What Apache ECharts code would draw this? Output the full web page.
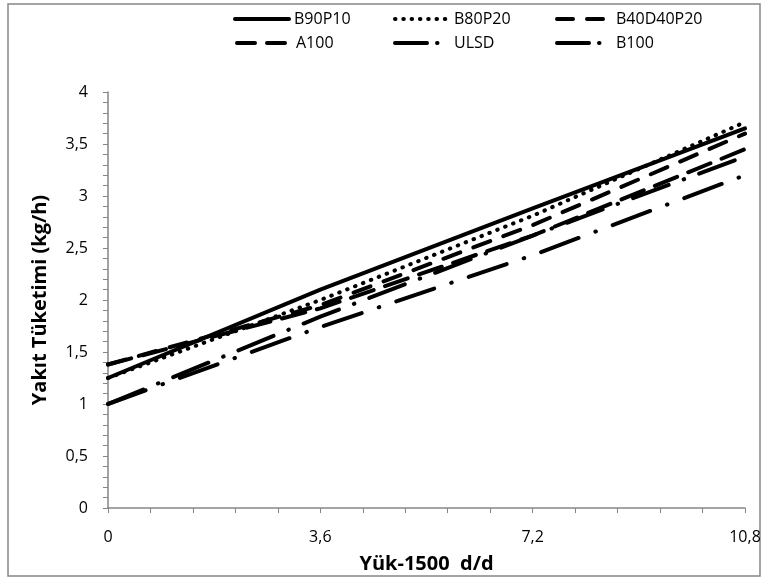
<!DOCTYPE html>
<html>
<head>
<meta charset="utf-8">
<script src="https://cdn.jsdelivr.net/npm/echarts@6/dist/echarts.min.js"></script>
<style>
  html, body { margin: 0; padding: 0; background: #fff; }
  #chart { width: 768px; height: 580px; }
</style>
</head>
<body>
<div id="chart"></div>
<script>
// Load points (x axis) and fuel consumption per fuel blend (kg/h)
const loads = [0, 3.6, 7.2, 10.8];
const seriesNames = ['B90P10', 'B80P20', 'B40D40P20', 'A100', 'ULSD', 'B100'];
const b90p10 = [1.25, 2.10, 2.88, 3.65];
const b80p20 = [1.25, 2.00, 2.81, 3.71];
const b40d40p20 = [1.38, 1.95, 2.72, 3.60];
const a100 = [1.38, 1.92, 2.62, 3.45];
const ulsd = [1.00, 1.84, 2.62, 3.38];
const b100 = [1.00, 1.74, 2.43, 3.20];
const xTicks = ['0', '3,6', '7,2', '10,8'];
const yTicks = ['0', '0,5', '1', '1,5', '2', '2,5', '3', '3,5', '4'];

const values = [b90p10, b80p20, b40d40p20, a100, ulsd, b100];

// dash patterns used on the plot
const dashes = [
  'solid',
  [0.5, 8],
  [18, 14],
  [24, 12],
  [38, 16, 0.5, 16],
  [40, 18, 0.5, 18]
];
// shorter patterns for the legend samples
const legendDashes = [
  'solid',
  [0.5, 7.8],
  [16, 14],
  [18, 12],
  [32, 10, 0.5, 40],
  [32, 10, 0.5, 40]
];
const FONT = '"Open Sans", "Noto Sans", sans-serif';

const legendPos = [
  [228, 6], [388, 6], [550, 6],
  [230, 30], [388, 30], [550, 30]
];

const chart = echarts.init(document.getElementById('chart'));

const series = seriesNames.map((name, i) => ({
  name: name,
  type: 'line',
  symbol: 'none',
  data: loads.map((x, k) => [x, values[i][k]]),
  lineStyle: { color: '#000', width: 4, type: dashes[i], cap: 'round' },
  itemStyle: { color: '#000' }
}));

const legends = seriesNames.map((name, i) => ({
  data: [name],
  left: legendPos[i][0],
  top: legendPos[i][1],
  itemWidth: 54,
  itemHeight: 4,
  itemGap: 6,
  selectedMode: false,
  itemStyle: { opacity: 0 },
  lineStyle: { width: 4, type: legendDashes[i], cap: 'round', color: '#000' },
  textStyle: { fontFamily: FONT, fontSize: 16, color: '#000' }
}));

chart.setOption({
  animation: false,
  backgroundColor: '#fff',
  legend: legends,
  grid: { left: 108, right: 23, top: 92, bottom: 72 },
  xAxis: {
    type: 'value', min: 0, max: 10.8, interval: 3.6,
    name: 'Yük-1500  d/d', nameLocation: 'middle', nameGap: 46,
    nameTextStyle: { fontFamily: FONT, fontSize: 20, fontWeight: 'bold', color: '#000' },
    axisLine: { lineStyle: { color: '#868686', width: 1.5 } },
    axisTick: { show: true, length: 5, lineStyle: { color: '#868686' } },
    minorTick: { show: true, splitNumber: 5, length: 5, lineStyle: { color: '#868686' } },
    splitLine: { show: false },
    axisLabel: {
      fontFamily: FONT, fontSize: 16, color: '#000', margin: 21,
      formatter: (v) => xTicks[Math.round(v / 3.6)]
    }
  },
  yAxis: {
    type: 'value', min: 0, max: 4, interval: 0.5,
    name: 'Yakıt Tüketimi (kg/h)', nameLocation: 'middle', nameGap: 58, nameRotate: 90,
    nameTextStyle: { fontFamily: FONT, fontSize: 20, fontWeight: 'bold', color: '#000' },
    axisLine: { show: true, lineStyle: { color: '#868686', width: 1.5 } },
    axisTick: { show: true, length: 5, lineStyle: { color: '#868686' } },
    minorTick: { show: true, splitNumber: 5, length: 5, lineStyle: { color: '#868686' } },
    splitLine: { show: false },
    axisLabel: {
      fontFamily: FONT, fontSize: 16, color: '#000', margin: 20,
      formatter: (v) => yTicks[Math.round(v / 0.5)]
    }
  },
  graphic: [{
    type: 'rect', silent: true,
    shape: { x: 8, y: 4, width: 752, height: 572 },
    style: { fill: 'none', stroke: '#868686', lineWidth: 1.5 }
  }],
  series: series
});
</script>
</body>
</html>
